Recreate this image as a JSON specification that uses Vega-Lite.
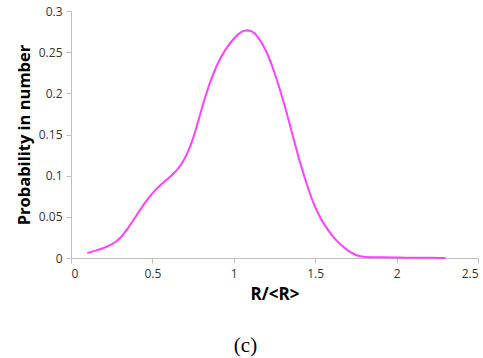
{
  "$schema": "https://vega.github.io/schema/vega-lite/v6.json",
  "width": 407,
  "height": 247,
  "autosize": {"type": "none"},
  "padding": {"left": 71, "top": 11, "right": 5, "bottom": 100},
  "background": "white",
  "title": {"text": "(c)", "orient": "bottom", "font": "Liberation Serif", "fontSize": 21, "fontWeight": "normal", "color": "black", "offset": 33, "dx": -29},
  "data": {"values": [
    {"r": 0.1, "p": 0.006},
    {"r": 0.15, "p": 0.009},
    {"r": 0.2, "p": 0.012},
    {"r": 0.25, "p": 0.016},
    {"r": 0.3, "p": 0.023},
    {"r": 0.35, "p": 0.036},
    {"r": 0.4, "p": 0.051},
    {"r": 0.45, "p": 0.066},
    {"r": 0.5, "p": 0.079},
    {"r": 0.55, "p": 0.089},
    {"r": 0.6, "p": 0.097},
    {"r": 0.65, "p": 0.106},
    {"r": 0.7, "p": 0.12},
    {"r": 0.75, "p": 0.143},
    {"r": 0.8, "p": 0.18},
    {"r": 0.85, "p": 0.212},
    {"r": 0.9, "p": 0.237},
    {"r": 0.95, "p": 0.254},
    {"r": 1.0, "p": 0.267},
    {"r": 1.05, "p": 0.276},
    {"r": 1.1, "p": 0.278},
    {"r": 1.15, "p": 0.269},
    {"r": 1.2, "p": 0.252},
    {"r": 1.25, "p": 0.226},
    {"r": 1.3, "p": 0.194},
    {"r": 1.35, "p": 0.158},
    {"r": 1.4, "p": 0.12},
    {"r": 1.45, "p": 0.088},
    {"r": 1.5, "p": 0.06},
    {"r": 1.55, "p": 0.042},
    {"r": 1.6, "p": 0.028},
    {"r": 1.65, "p": 0.017},
    {"r": 1.7, "p": 0.009},
    {"r": 1.75, "p": 0.003},
    {"r": 1.8, "p": 0.001},
    {"r": 1.9, "p": 0.001},
    {"r": 2.0, "p": 0.0005},
    {"r": 2.1, "p": 0.0003},
    {"r": 2.2, "p": 0.0002},
    {"r": 2.3, "p": 0.0001}
  ]},
  "mark": {"type": "line", "color": "#ff40ff", "strokeWidth": 2, "interpolate": "basis"},
  "encoding": {
    "x": {"field": "r", "type": "quantitative", "scale": {"domain": [0, 2.5], "nice": false},
      "axis": {"title": "R/<R>", "values": [0, 0.5, 1, 1.5, 2, 2.5], "format": ".1~f", "grid": false,
        "domainColor": "#bfbfbf", "tickColor": "#bfbfbf", "tickSize": 5, "labelFont": "Open Sans", "labelFontSize": 12, "labelColor": "#333333", "labelPadding": 5,
        "titleFont": "Open Sans", "titleFontSize": 17, "titleFontWeight": "bold", "titleColor": "black", "titlePadding": 7}},
    "y": {"field": "p", "type": "quantitative", "scale": {"domain": [0, 0.3], "nice": false},
      "axis": {"title": "Probability in number", "values": [0, 0.05, 0.1, 0.15, 0.2, 0.25, 0.3], "format": ".2~f", "grid": false,
        "domainColor": "#bfbfbf", "tickColor": "#bfbfbf", "tickSize": 5, "labelFont": "Open Sans", "labelFontSize": 12, "labelColor": "#333333", "labelPadding": 4,
        "titleFont": "Open Sans", "titleFontSize": 16.5, "titleFontWeight": "bold", "titleColor": "black", "titlePadding": 6}}
  },
  "config": {"view": {"stroke": null}}
}
